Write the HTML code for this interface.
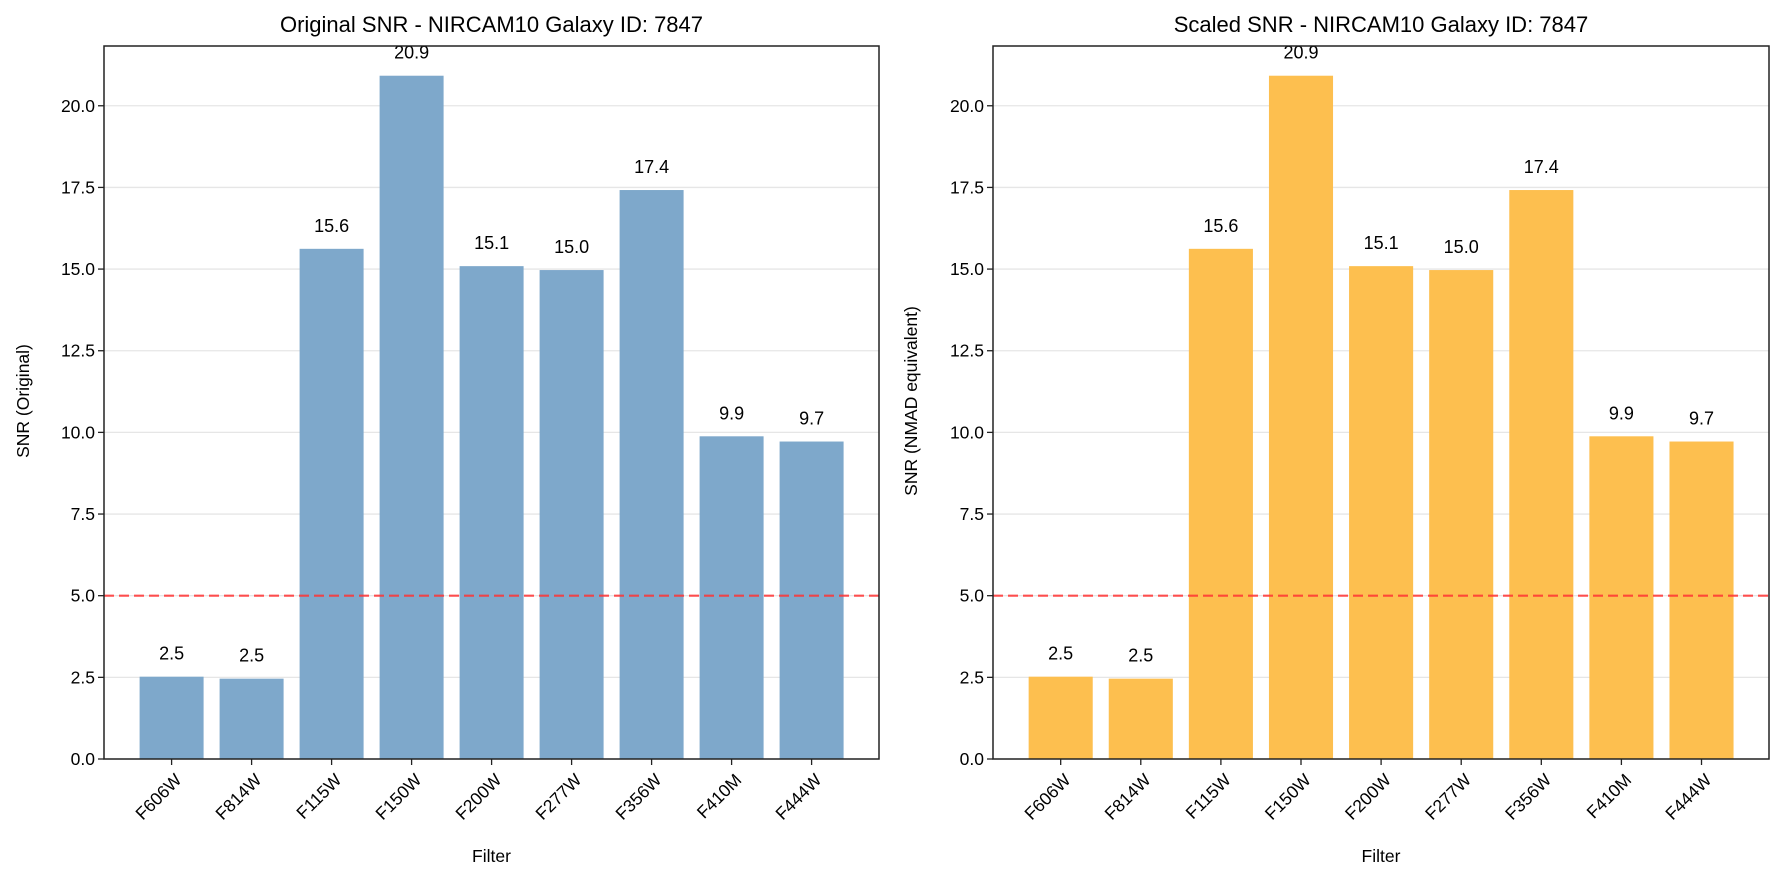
<!DOCTYPE html>
<html><head><meta charset="utf-8"><style>
html,body{margin:0;padding:0;background:#fff;}
svg{display:block;font-family:"Liberation Sans","DejaVu Sans",sans-serif;}
</style></head><body>
<svg id="chart" width="1783" height="882" viewBox="0 0 1783 882" xmlns="http://www.w3.org/2000/svg"></svg>
<script>
const categories = ["F606W","F814W","F115W","F150W","F200W","F277W","F356W","F410M","F444W"];
const originalSnr = [2.52, 2.46, 15.62, 20.92, 15.09, 14.97, 17.42, 9.88, 9.72];
const scaledSnr = [2.52, 2.46, 15.62, 20.92, 15.09, 14.97, 17.42, 9.88, 9.72];
const yTicks = [0, 2.5, 5, 7.5, 10, 12.5, 15, 17.5, 20];
const thresholdValue = 5.0;

const NS = "http://www.w3.org/2000/svg";
const svg = document.getElementById("chart");
function mk(tag, attrs, parent) {
  const e = document.createElementNS(NS, tag);
  for (const k in attrs) e.setAttribute(k, attrs[k]);
  (parent || svg).appendChild(e);
  return e;
}

function drawPanel(x0, x1, values, color, title, ylabel, prefix, ylabelX) {
  const yTop = 46, yBot = 759;
  const yMax = 21.83;
  const yScale = v => yBot - v / yMax * (yBot - yTop);
  const xScale = i => x0 + (i + 0.845) * 80 * ((x1 - x0) / 775);
  const bw = 64 * ((x1 - x0) / 775);
  const g = mk("g", {});
  
  

  yTicks.forEach(t => {
    const y = yScale(t);
    const gl = mk("line", {x1: x0, x2: x1, y1: y, y2: y, stroke: "#e6e6e6", "stroke-width": 1.3}, g);
    
    
  });
  values.forEach((v, i) => {
    const cx = xScale(i);
    const r = mk("rect", {x: cx - bw / 2, y: yScale(v), width: bw, height: yBot - yScale(v), fill: color}, g);
    
    
    const t = mk("text", {x: cx, y: yScale(v) - 17, "text-anchor": "middle", "font-size": 18, fill: "#000"}, g);
    t.textContent = v.toFixed(1);
    
    
  });
  const ty = yScale(thresholdValue);
  const th = mk("line", {x1: x0, x2: x1, y1: ty, y2: ty, stroke: "#f33", "stroke-opacity": 0.85, "stroke-width": 2.2, "stroke-dasharray": "10,5"}, g);
  
  
  const fr = mk("rect", {x: x0, y: yTop, width: x1 - x0, height: yBot - yTop, fill: "none", stroke: "#222", "stroke-width": 1.5}, g);
  
  
  yTicks.forEach(t => {
    const y = yScale(t);
    mk("line", {x1: x0 - 6, x2: x0, y1: y, y2: y, stroke: "#222", "stroke-width": 1.3}, g);
    const tl = mk("text", {x: x0 - 9, y: y + 6, "text-anchor": "end", "font-size": 17.5, fill: "#000"}, g);
    tl.textContent = t.toFixed(1);
    
    
  });
  categories.forEach((c, i) => {
    const cx = xScale(i);
    mk("line", {x1: cx, x2: cx, y1: yBot, y2: yBot + 6, stroke: "#222", "stroke-width": 1.3}, g);
    const ex = cx + 11, ey = 781;
    const tl = mk("text", {x: ex, y: ey, "text-anchor": "end", "font-size": 17.5, fill: "#000", transform: `rotate(-45 ${ex} ${ey})`}, g);
    tl.textContent = c;
    
    
  });
  const tt = mk("text", {x: (x0 + x1) / 2, y: 32, "text-anchor": "middle", "font-size": 22, fill: "#000"}, g);
  tt.textContent = title;
  
  
  const xl = mk("text", {x: (x0 + x1) / 2, y: 862, "text-anchor": "middle", "font-size": 17.5, fill: "#000"}, g);
  xl.textContent = "Filter";
  
  
  const yc = 401;
  const yl = mk("text", {x: ylabelX, y: yc, "text-anchor": "middle", "font-size": 17.5, fill: "#000", transform: `rotate(-90 ${ylabelX} ${yc})`}, g);
  yl.textContent = ylabel;
  
  
}

drawPanel(104, 879, originalSnr, "#7ea8cb", "Original SNR - NIRCAM10 Galaxy ID: 7847", "SNR (Original)", "original", 29);
drawPanel(993, 1769, scaledSnr, "#fdbf4f", "Scaled SNR - NIRCAM10 Galaxy ID: 7847", "SNR (NMAD equivalent)", "scaled", 917);
</script>
</body></html>
